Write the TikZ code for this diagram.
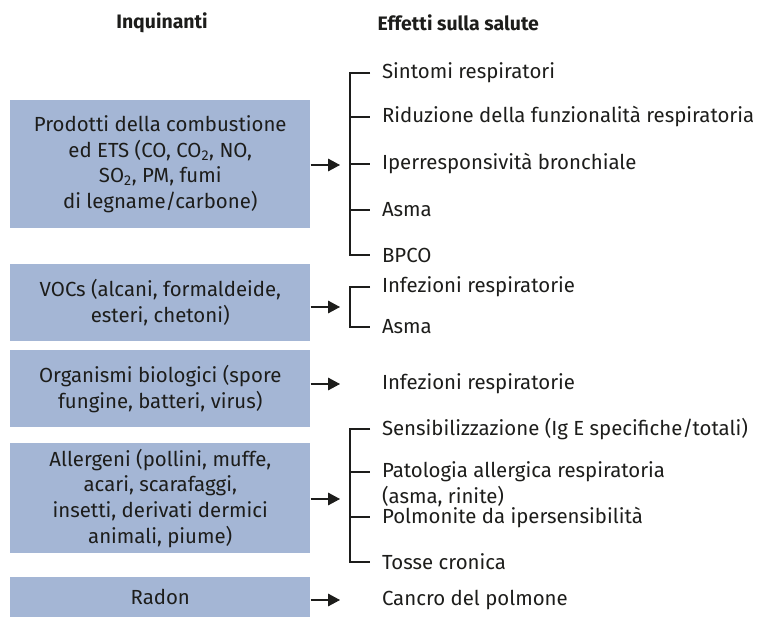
\documentclass[tikz,border=0pt]{standalone}
\usepackage{fontspec}
\setmainfont{Fira Sans}
\usetikzlibrary{arrows.meta}
\definecolor{boxblue}{RGB}{164,182,213}
\definecolor{ink}{RGB}{29,29,27}
\begin{document}
\begin{tikzpicture}[x=0.75pt,y=-0.75pt,
  every node/.style={text=ink,font=\fontsize{15.3pt}{19.2pt}\selectfont},
  pbox/.style={fill=boxblue,draw=none,align=center,anchor=north west,inner sep=0pt},
  eff/.style={anchor=west,align=left,inner xsep=0pt,inner ysep=1pt,outer xsep=9pt},
  ttl/.style={font=\fontsize{14.6pt}{19pt}\selectfont\bfseries},
  brk/.style={draw=ink,line width=0.8pt},
  arr/.style={draw=ink,line width=0.8pt,-{Triangle[length=9pt,width=9.5pt]}}]
\useasboundingbox (0,0) rectangle (760,617);
% titles
\node[ttl] (h1) at (162,23) {Inquinanti};
\node[ttl,anchor=west] (h2) at (373,23) {Effetti sulla salute};
% pollutant boxes
\node[pbox,minimum width=300*0.75pt,minimum height=128*0.75pt] (b1) at (10,100) {};
\node (b1t) at (b1.center) [align=center] {Prodotti della combustione\\ed ETS (CO, CO\textsubscript{2}, NO,\\SO\textsubscript{2}, PM, fumi\\di legname/carbone)};
\node[pbox,minimum width=300*0.75pt,minimum height=77*0.75pt] (b2) at (10,264) {};
\node (b2t) at (b2.center) [align=center] {VOCs (alcani, formaldeide,\\esteri, chetoni)};
\node[pbox,minimum width=300*0.75pt,minimum height=77*0.75pt] (b3) at (10,350) {};
\node (b3t) at (b3.center) [align=center] {Organismi biologici (spore\\fungine, batteri, virus)};
\node[pbox,minimum width=300*0.75pt,minimum height=110*0.75pt] (b4) at (10,443) {};
\node (b4t) at (b4.center) [align=center] {Allergeni (pollini, muffe,\\acari, scarafaggi,\\insetti, derivati dermici\\animali, piume)};
\node[pbox,minimum width=300*0.75pt,minimum height=40*0.75pt] (b5) at (10,577) {};
\node (b5t) at (b5.center) {Radon};
% arrow ends
\coordinate (a1) at (340,165);
\coordinate (a2) at (340,307);
\coordinate (a3) at (340,384);
\coordinate (a4) at (340,499);
\coordinate (a5) at (340,600);
\draw[arr] (b1.east |- a1) -- (a1);
\draw[arr] (b2.east |- a2) -- (a2);
\draw[arr] (b3.east |- a3) -- (a3);
\draw[arr] (b4.east |- a4) -- (a4);
\draw[arr] (b5.east |- a5) -- (a5);
% effects group 1
\coordinate (k11) at (350,73);
\coordinate (k12) at (350,117);
\coordinate (k13) at (350,164);
\coordinate (k14) at (350,210);
\coordinate (k15) at (350,255);
\node[eff] (t11) at (370,73) {Sintomi respiratori};
\node[eff] (t12) at (370,117) {Riduzione della funzionalità respiratoria};
\node[eff] (t13) at (370,164) {Iperresponsività bronchiale};
\node[eff] (t14) at (370,210) {Asma};
\node[eff] (t15) at (370,255) {BPCO};
\draw[brk] (t11.west) -- (k11) -- (k15) -- (t15.west);
\draw[brk] (k12) -- (t12.west);
\draw[brk] (k13) -- (t13.west);
\draw[brk] (k14) -- (t14.west);
% effects group 2
\coordinate (k21) at (350,287);
\coordinate (k22) at (350,327);
\node[eff] (t21) at (370,287) {Infezioni respiratorie};
\node[eff] (t22) at (370,327) {Asma};
\draw[brk] (t21.west) -- (k21) -- (k22) -- (t22.west);
% effects group 3
\node[eff] (t31) at (370,384) {Infezioni respiratorie};
% effects group 4
\coordinate (k41) at (350,429);
\coordinate (k42) at (350,472);
\coordinate (k43) at (350,517);
\coordinate (k44) at (350,562);
\node[eff] (t41) at (370,429) {Sensibilizzazione (Ig E specifiche/totali)};
\node[eff,anchor=west] (t42) at (370,484) {Patologia allergica respiratoria\\(asma, rinite)};
\node[eff] (t43) at (370,517) {Polmonite da ipersensibilità};
\node[eff] (t44) at (370,562) {Tosse cronica};
\draw[brk] (t41.west) -- (k41) -- (k44) -- (t44.west);
\draw[brk] (k42) -- (k42 -| t42.west);
\draw[brk] (k43) -- (t43.west);
% effects group 5
\node[eff] (t51) at (370,600) {Cancro del polmone};
\end{tikzpicture}
\end{document}
